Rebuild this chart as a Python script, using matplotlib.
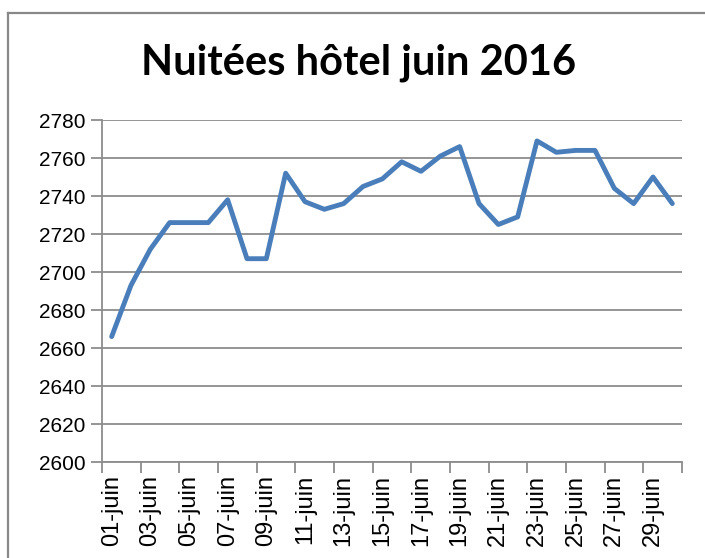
import matplotlib
matplotlib.use("Agg")
import matplotlib.pyplot as plt
from matplotlib.lines import Line2D

days = ["%02d-juin" % d for d in range(1, 31)]
nuitees = [2666, 2693, 2712, 2726, 2726, 2726, 2738, 2707, 2707, 2752,
           2737, 2733, 2736, 2745, 2749, 2758, 2753, 2761, 2766, 2736,
           2725, 2729, 2769, 2763, 2764, 2764, 2744, 2736, 2750, 2736]
y_ticks = list(range(2600, 2781, 20))

W, H = 705, 558
fig = plt.figure(figsize=(W / 100, H / 100), dpi=100)

# outer chart border: only top and left edges are visible (cropped)
bx, by = 8 / W, 1 - 13 / H
fig.lines.append(Line2D([bx, 1.01], [by, by], transform=fig.transFigure,
                        color="#888888", linewidth=1.6))
fig.lines.append(Line2D([bx, bx], [-0.01, by], transform=fig.transFigure,
                        color="#888888", linewidth=1.6))

ax = fig.add_axes([102 / W, 1 - 462 / H, 580 / W, 342 / H])
x = list(range(len(days)))
ax.plot(x, nuitees, color="#4A7EBB", linewidth=3.5, solid_joinstyle="round",
        solid_capstyle="round")

ax.set_xlim(-0.5, len(days) - 0.5)
ax.set_ylim(2600, 2780)
ax.set_yticks(y_ticks)
ax.set_yticklabels([str(v) for v in y_ticks], fontsize=15, family="Liberation Sans")
ax.yaxis.grid(True, color="#8c8c8c", linewidth=1.3)
ax.set_axisbelow(True)

ax.set_xticks(x[::2])
ax.set_xticklabels(days[::2], rotation=90, fontsize=17, family="Liberation Sans")
ax.set_xticks([i - 0.5 for i in range(0, len(days) + 1, 2)], minor=True)
ax.tick_params(axis="x", which="major", length=0, pad=9)
ax.tick_params(axis="x", which="minor", length=8, color="#8c8c8c", width=1.3)
ax.tick_params(axis="y", length=8, color="#8c8c8c", width=1.3, pad=4)

for s in ["top", "right"]:
    ax.spines[s].set_visible(False)
for s in ["left", "bottom"]:
    ax.spines[s].set_color("#8c8c8c")
    ax.spines[s].set_linewidth(1.3)

fig.text(359 / W, 1 - 63 / H, "Nuitées hôtel juin 2016", ha="center", va="center",
         fontsize=30, fontweight="bold", family="Lato")

fig.savefig("out.png", dpi=100)
